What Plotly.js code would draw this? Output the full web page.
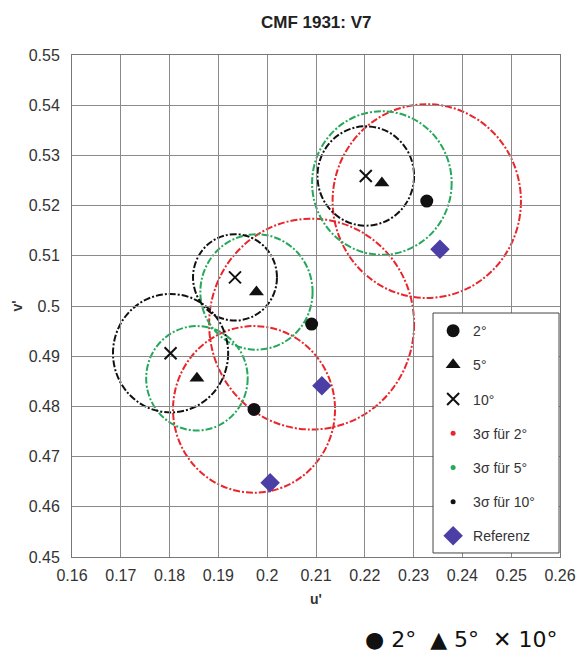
<!DOCTYPE html>
<html>
<head>
<meta charset="utf-8">
<script src="https://cdn.plot.ly/plotly-3.0.1.min.js"></script>
<style>html,body{margin:0;padding:0;background:#fff;}#chart{width:576px;height:655px;}</style>
</head>
<body>
<div id="chart"></div>
<script>
// Measured chromaticity points (u', v')
const u2 = [0.1973, 0.2091, 0.2327];
const v2 = [0.4794, 0.4964, 0.5209];
const u5 = [0.1856, 0.1978, 0.2235];
const v5 = [0.4856, 0.5028, 0.5245];
const u10 = [0.1802, 0.1934, 0.2202];
const v10 = [0.4906, 0.5057, 0.5259];
const uRef = [0.2006, 0.2112, 0.2354];
const vRef = [0.4648, 0.4841, 0.5113];
// 3-sigma radii around each point
const r2 = [0.0166, 0.0210, 0.0193];
const r5 = [0.0104, 0.0115, 0.0143];
const r10 = [0.0118, 0.0086, 0.0099];
// labels
const names = ['2°', '5°', '10°', '3σ für 2°', '3σ für 5°', '3σ für 10°', 'Referenz'];
const xTicks = [0.16,0.17,0.18,0.19,0.2,0.21,0.22,0.23,0.24,0.25,0.26];
const yTicks = [0.45,0.46,0.47,0.48,0.49,0.5,0.51,0.52,0.53,0.54,0.55];

const RED = '#e8262b', GREEN = '#25a85a', BLACK = '#111111', BLUE = '#4b3fa6';
const DASH = '7px,2px,2px,2px';

function circles(us, vs, rs, color) {
  return us.map((cx, i) => ({
    type: 'circle', xref: 'x', yref: 'y', layer: 'below',
    x0: cx - rs[i], x1: cx + rs[i], y0: vs[i] - rs[i], y1: vs[i] + rs[i],
    line: {color: color, width: 2, dash: DASH}
  }));
}

const traces = [
  {x: u2, y: v2, name: names[0], legendgroup: 'a', mode: 'markers', type: 'scatter',
   marker: {symbol: 'circle', size: 13, color: BLACK}},
  {x: u5, y: v5, name: names[1], legendgroup: 'b', mode: 'markers', type: 'scatter',
   marker: {symbol: 'triangle-up', size: 13, color: BLACK}},
  {x: u10, y: v10, name: names[2], legendgroup: 'c', mode: 'markers', type: 'scatter',
   marker: {symbol: 'x-thin', size: 12, color: BLACK, line: {width: 2, color: BLACK}}},
  {x: [null], y: [null], name: names[3], legendgroup: 'd', mode: 'markers', type: 'scatter',
   marker: {symbol: 'circle', size: 5, color: RED}},
  {x: [null], y: [null], name: names[4], legendgroup: 'e', mode: 'markers', type: 'scatter',
   marker: {symbol: 'circle', size: 5, color: GREEN}},
  {x: [null], y: [null], name: names[5], legendgroup: 'f', mode: 'markers', type: 'scatter',
   marker: {symbol: 'circle', size: 5, color: BLACK}},
  {x: uRef, y: vRef, name: names[6], legendgroup: 'g', mode: 'markers', type: 'scatter',
   marker: {symbol: 'diamond', size: 15, color: BLUE}}
];

const FONT = 'Liberation Sans, Arial, sans-serif';
const legendBox = {
  type: 'rect', xref: 'paper', yref: 'paper', layer: 'above',
  x0: 0.7398, x1: 0.998, y0: 0.008, y1: 0.486,
  fillcolor: '#ffffff', line: {color: '#444', width: 1}
};
const layout = {
  width: 576, height: 655,
  margin: {l: 72, r: 16, t: 55, b: 98},
  paper_bgcolor: '#fff', plot_bgcolor: '#fff',
  font: {family: FONT, size: 14, color: '#222'},
  title: {text: '<b>CMF 1931: V7</b>', x: 0.549, xanchor: 'center', y: 0.966, yanchor: 'middle',
          font: {family: FONT, size: 17, color: '#222'}},
  xaxis: {range: [0.16, 0.26], tickvals: xTicks, ticktext: xTicks.map(String),
          showgrid: true, gridcolor: '#8a8a8a', gridwidth: 1, zeroline: false,
          showline: true, linecolor: '#777', linewidth: 1, mirror: true, ticks: '',
          ticklabelstandoff: 4,
          tickfont: {size: 16, color: '#333'},
          title: {text: "<b>u'</b>", standoff: 10, font: {size: 14, color: '#333'}}},
  yaxis: {range: [0.45, 0.55], tickvals: yTicks, ticktext: yTicks.map(String),
          showgrid: true, gridcolor: '#8a8a8a', gridwidth: 1, zeroline: false,
          showline: true, linecolor: '#777', linewidth: 1, mirror: true, ticks: '',
          ticklabelstandoff: 8,
          tickfont: {size: 16, color: '#333'},
          title: {text: "<b>v'</b>", standoff: 2, font: {size: 14, color: '#333'}}},
  showlegend: true,
  legend: {x: 0.74, xanchor: 'left', y: 0.482, yanchor: 'top',
           bgcolor: 'rgba(0,0,0,0)', borderwidth: 0,
           tracegroupgap: 13, font: {size: 14, color: '#333'}},
  shapes: [].concat(circles(u2, v2, r2, RED), circles(u5, v5, r5, GREEN), circles(u10, v10, r10, BLACK), [legendBox]),
  annotations: [{
    xref: 'paper', yref: 'paper', x: 1.0, y: -0.165, xanchor: 'right', yanchor: 'middle',
    text: '● 2°  ▲ 5°  ✕ 10°', showarrow: false,
    font: {family: 'DejaVu Sans, Liberation Sans, sans-serif', size: 22, color: '#111'}
  }]
};

Plotly.newPlot('chart', traces, layout, {displayModeBar: false, staticPlot: true});
</script>
</body>
</html>
